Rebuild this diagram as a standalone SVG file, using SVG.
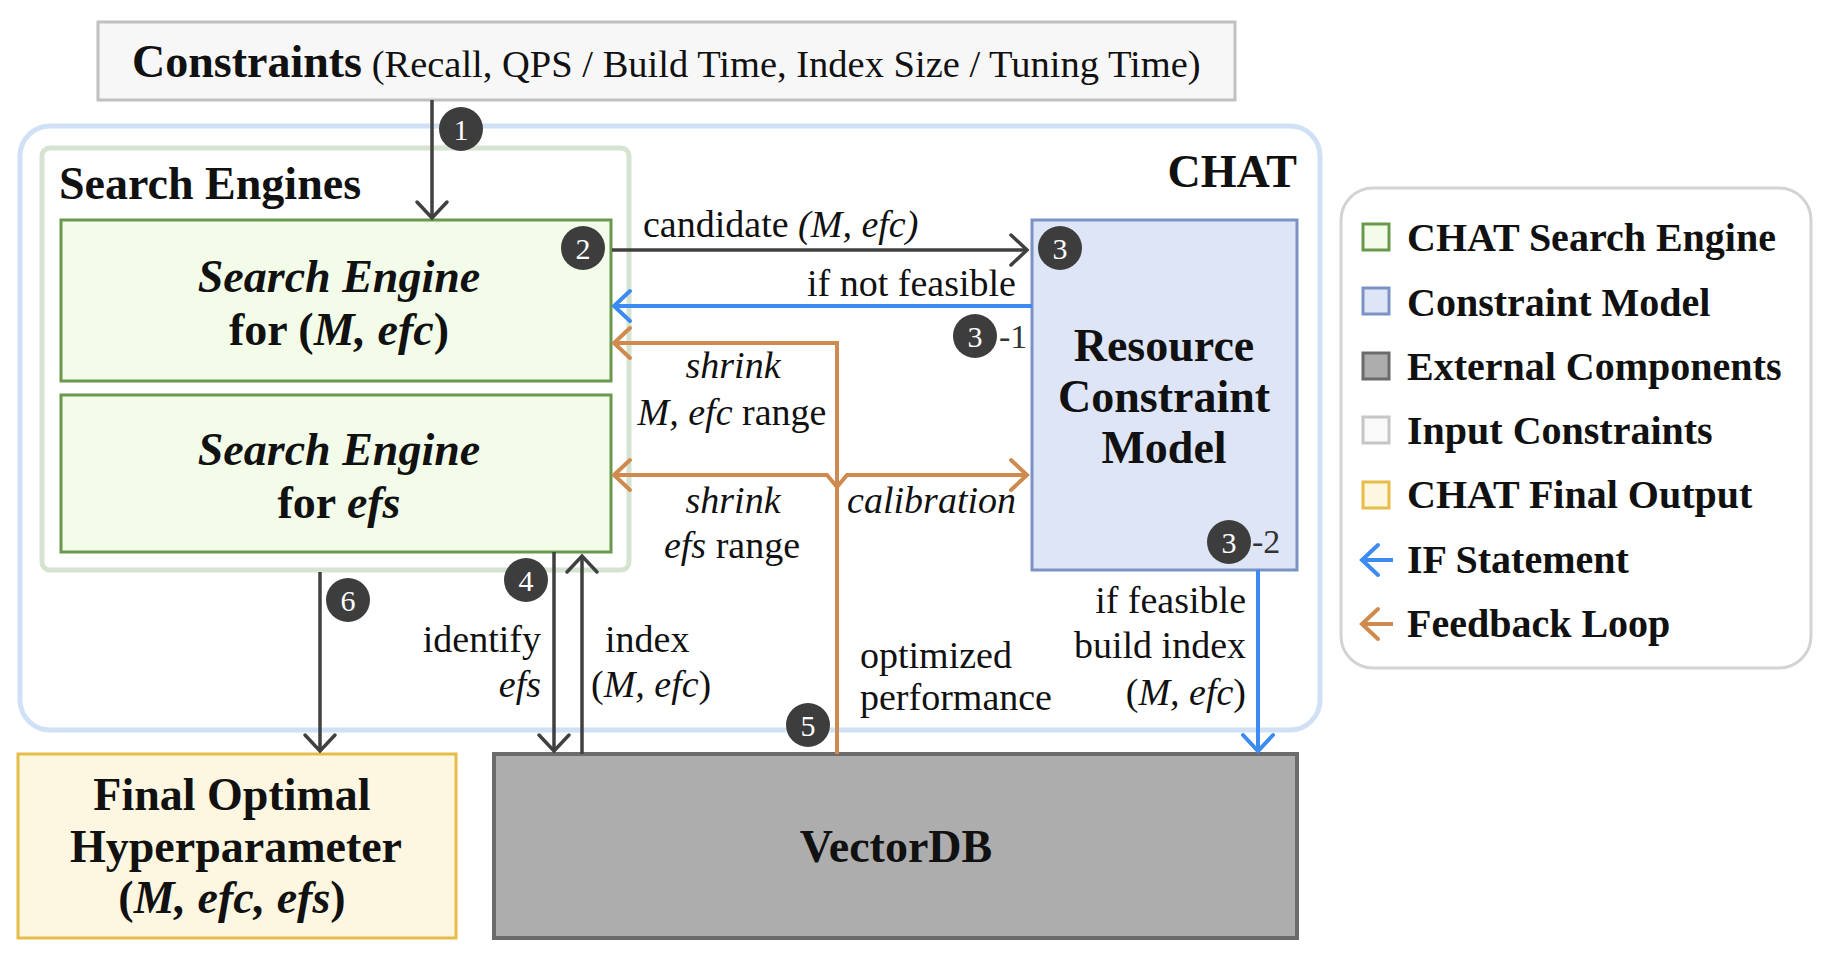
<svg xmlns="http://www.w3.org/2000/svg" width="1832" height="958" viewBox="0 0 1832 958">
<style>
text{font-family:"Liberation Serif","Times New Roman",serif;fill:#111}
.t{font-size:46px;font-weight:bold}
.lg{font-size:40px;font-weight:bold}
.lb{font-size:38px}
.i{font-style:italic}
.bd{font-size:30px;fill:#fff;text-anchor:middle}
.sub{font-size:34px;fill:#333}
.dk{fill:none;stroke:#404040;stroke-width:3.5}
.bl{fill:none;stroke:#3b8bf0;stroke-width:4}
.or{fill:none;stroke:#cf8a4f;stroke-width:4}
.badge{fill:#3d3d3d}
</style>
<defs>
<marker id="ad" markerUnits="userSpaceOnUse" markerWidth="40" markerHeight="40" refX="0" refY="0" orient="auto" overflow="visible"><path d="M-16,-15 L0,0 L-16,15" fill="none" stroke="#404040" stroke-width="3.5" stroke-linecap="round"/></marker>
<marker id="ab" markerUnits="userSpaceOnUse" markerWidth="40" markerHeight="40" refX="0" refY="0" orient="auto" overflow="visible"><path d="M-16,-15 L0,0 L-16,15" fill="none" stroke="#3b8bf0" stroke-width="4" stroke-linecap="round"/></marker>
<marker id="ao" markerUnits="userSpaceOnUse" markerWidth="40" markerHeight="40" refX="0" refY="0" orient="auto" overflow="visible"><path d="M-16,-15 L0,0 L-16,15" fill="none" stroke="#cf8a4f" stroke-width="4" stroke-linecap="round"/></marker>
</defs>
<rect width="1832" height="958" fill="#fff"/>

<g id="chat">
<rect x="20" y="126" width="1300" height="604" rx="30" fill="none" stroke="#d0e1f5" stroke-width="5"/>
<text class="t" x="1297" y="187" text-anchor="end" font-size="43">CHAT</text>
</g>

<g id="search-engines">
<rect x="42" y="148" width="587" height="422" rx="8" fill="#fff" stroke="#d6e3d1" stroke-width="5"/>
<text class="t" x="59" y="199">Search Engines</text>
</g>

<g id="constraints">
<rect x="98" y="22" width="1137" height="78" fill="#f7f7f7" stroke="#c0c0c0" stroke-width="3"/>
<text x="132" y="77"><tspan class="t" font-size="47">Constraints</tspan><tspan font-size="38.5"> (Recall, QPS / Build Time, Index Size / Tuning Time)</tspan></text>
</g>

<g id="se-m-efc">
<rect x="61" y="220" width="550" height="161" fill="#f3fce9" stroke="#6a994e" stroke-width="3"/>
<text class="t i" x="339" y="292" text-anchor="middle">Search Engine</text>
<text class="t" x="339" y="345" text-anchor="middle">for (<tspan class="i">M, efc</tspan>)</text>
</g>

<g id="se-efs">
<rect x="61" y="395" width="550" height="157" fill="#f3fce9" stroke="#6a994e" stroke-width="3"/>
<text class="t i" x="339" y="465" text-anchor="middle">Search Engine</text>
<text class="t" x="339" y="518" text-anchor="middle">for <tspan class="i">efs</tspan></text>
</g>

<g id="resource-model">
<rect x="1032" y="220" width="265" height="350" fill="#dde5f6" stroke="#7b93c4" stroke-width="3"/>
<text class="t" x="1164" y="361" text-anchor="middle">Resource</text>
<text class="t" x="1164" y="412" text-anchor="middle">Constraint</text>
<text class="t" x="1164" y="463" text-anchor="middle">Model</text>
</g>

<g id="final-output">
<rect x="18" y="754" width="438" height="184" fill="#fdf6e0" stroke="#e5bd48" stroke-width="3"/>
<text class="t" x="232" y="810" text-anchor="middle">Final Optimal</text>
<text class="t" x="236" y="862" text-anchor="middle">Hyperparameter</text>
<text class="t" x="232" y="913" text-anchor="middle">(<tspan class="i">M, efc, efs</tspan>)</text>
</g>

<g id="vectordb">
<rect x="494" y="754" width="803" height="184" fill="#adadad" stroke="#6b6b6b" stroke-width="4"/>
<text class="t" x="896" y="862" text-anchor="middle">VectorDB</text>
</g>

<g id="connectors">
<path class="dk" d="M432,100 V218" marker-end="url(#ad)"/>
<path class="dk" d="M612,250 H1027" marker-end="url(#ad)"/>
<path class="dk" d="M554,552 V751" marker-end="url(#ad)"/>
<path class="dk" d="M582,754 V556" marker-end="url(#ad)"/>
<path class="dk" d="M320,572 V751" marker-end="url(#ad)"/>
<path class="bl" d="M1032,306 H614" marker-end="url(#ab)"/>
<path class="bl" d="M1258,570 V751" marker-end="url(#ab)"/>
<path class="or" d="M837,754 V343 H614" marker-end="url(#ao)"/>
<path class="or" d="M837,487 L827,475 H614" marker-end="url(#ao)"/>
<path class="or" d="M837,487 L847,475 H1027" marker-end="url(#ao)"/>

<text class="lb" x="643" y="237">candidate <tspan class="i">(M, efc)</tspan></text>
<text class="lb" x="1016" y="296" text-anchor="end">if not feasible</text>
<text class="lb i" x="733" y="378" text-anchor="middle">shrink</text>
<text class="lb" x="732" y="425" text-anchor="middle"><tspan class="i">M, efc</tspan> range</text>
<text class="lb i" x="733" y="513" text-anchor="middle">shrink</text>
<text class="lb" x="732" y="558" text-anchor="middle"><tspan class="i">efs</tspan> range</text>
<text class="lb i" x="1016" y="513" text-anchor="end">calibration</text>
<text class="lb" x="541" y="652" text-anchor="end">identify</text>
<text class="lb i" x="541" y="697" text-anchor="end">efs</text>
<text class="lb" x="605" y="652">index</text>
<text class="lb" x="591" y="697">(<tspan class="i">M, efc</tspan>)</text>
<text class="lb" x="860" y="668">optimized</text>
<text class="lb" x="860" y="710">performance</text>
<text class="lb" x="1246" y="613" text-anchor="end">if feasible</text>
<text class="lb" x="1246" y="658" text-anchor="end">build index</text>
<text class="lb" x="1246" y="705" text-anchor="end">(<tspan class="i">M, efc</tspan>)</text>
</g>

<g id="badges">
<circle class="badge" cx="461" cy="129" r="22"/><text class="bd" x="461" y="140">1</text>
<circle class="badge" cx="583" cy="248" r="22"/><text class="bd" x="583" y="259">2</text>
<circle class="badge" cx="1060" cy="248" r="22"/><text class="bd" x="1060" y="259">3</text>
<circle class="badge" cx="975" cy="336" r="22"/><text class="bd" x="975" y="347">3</text>
<text class="sub" x="999" y="348">-1</text>
<circle class="badge" cx="1229" cy="542" r="22"/><text class="bd" x="1229" y="553">3</text>
<text class="sub" x="1252" y="553">-2</text>
<circle class="badge" cx="526" cy="580" r="22"/><text class="bd" x="526" y="591">4</text>
<circle class="badge" cx="808" cy="725" r="22"/><text class="bd" x="808" y="736">5</text>
<circle class="badge" cx="348" cy="600" r="22"/><text class="bd" x="348" y="611">6</text>
</g>

<g id="legend">
<rect x="1341" y="188" width="470" height="480" rx="32" fill="#fff" stroke="#d3d3d3" stroke-width="3"/>
<rect x="1363" y="224" width="26" height="26" fill="#f3fce9" stroke="#6a994e" stroke-width="3"/>
<text class="lg" x="1407" y="251">CHAT Search Engine</text>
<rect x="1363" y="288" width="26" height="26" fill="#dde5f6" stroke="#7b93c4" stroke-width="3"/>
<text class="lg" x="1407" y="316">Constraint Model</text>
<rect x="1363" y="353" width="26" height="26" fill="#adadad" stroke="#6b6b6b" stroke-width="3"/>
<text class="lg" x="1407" y="380">External Components</text>
<rect x="1363" y="417" width="26" height="26" fill="#f9f9f9" stroke="#c6c6c6" stroke-width="3"/>
<text class="lg" x="1407" y="444">Input Constraints</text>
<rect x="1363" y="482" width="26" height="26" fill="#fdf6e0" stroke="#e5bd48" stroke-width="3"/>
<text class="lg" x="1407" y="508">CHAT Final Output</text>
<path class="bl" d="M1393,560 H1362" marker-end="url(#ab)"/>
<text class="lg" x="1407" y="573">IF Statement</text>
<path class="or" d="M1393,624 H1362" marker-end="url(#ao)"/>
<text class="lg" x="1407" y="637">Feedback Loop</text>
</g>
</svg>
